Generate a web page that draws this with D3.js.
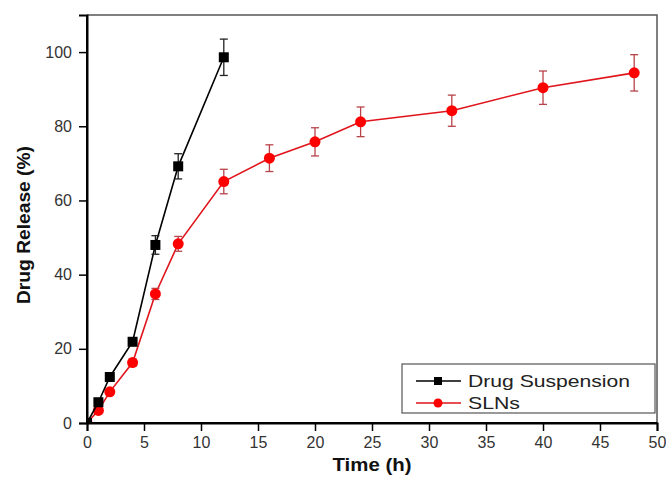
<!DOCTYPE html>
<html>
<head>
<meta charset="utf-8">
<script src="https://cdn.jsdelivr.net/npm/d3@7"></script>
<style>
  body { margin: 0; background: #fff; }
  svg { display: block; }
  text { font-family: Arial, "Liberation Sans", sans-serif; }
</style>
</head>
<body>
<svg id="chart" width="666" height="480"></svg>
<script>
// ---- data ----
const suspTime = [0, 1, 2, 4, 6, 8, 12];
const suspRelease = [0, 5.6, 12.4, 21.9, 48.0, 69.2, 98.6];
const suspError = [0, 0.5, 0.8, 1.0, 2.5, 3.4, 4.9];

const slnTime = [0, 1, 2, 4, 6, 8, 12, 16, 20, 24, 32, 40, 48];
const slnRelease = [0, 3.4, 8.4, 16.3, 34.8, 48.3, 65.1, 71.4, 75.8, 81.2, 84.2, 90.4, 94.4];
const slnError = [0, 0.5, 0.8, 1.0, 1.5, 2.0, 3.3, 3.6, 3.8, 4.0, 4.2, 4.5, 4.9];

const xTicks = [0, 5, 10, 15, 20, 25, 30, 35, 40, 45, 50];
const yTicks = [0, 20, 40, 60, 80, 100];
const seriesNames = ["Drug Suspension", "SLNs"];
const xTitle = "Time (h)";
const yTitle = "Drug Release (%)";

// ---- layout ----
const svg = d3.select("#chart");
const pLeft = 87, pRight = 657, pTop = 15, pBottom = 423;

const x = d3.scaleLinear().domain([0, 50]).range([pLeft, pRight]);
const y = d3.scaleLinear().domain([0, 110]).range([pBottom, pTop]);

// frame (top & right)
svg.append("path")
  .attr("d", `M${pLeft},${pTop}H${pRight}V${pBottom}`)
  .attr("fill", "none").attr("stroke", "#555").attr("stroke-width", 1.5);

// minor ticks
const xMinor = d3.range(2.5, 50, 5);
const yMinor = d3.range(10, 110, 20);

const xAxisG = svg.append("g").attr("transform", `translate(0,${pBottom})`);
xAxisG.call(d3.axisBottom(x).tickValues(xMinor).tickSize(5).tickFormat(""));
xAxisG.call(d3.axisBottom(x).tickValues(xTicks).tickSize(8).tickPadding(6).tickFormat(d3.format("d")));
const yAxisG = svg.append("g").attr("transform", `translate(${pLeft},0)`);
yAxisG.call(d3.axisLeft(y).tickValues(yMinor).tickSize(5).tickFormat(""));
yAxisG.call(d3.axisLeft(y).tickValues(yTicks).tickSize(8).tickPadding(7).tickFormat(d3.format("d")));

svg.selectAll(".domain").attr("stroke", "#000").attr("stroke-width", 2);
svg.selectAll(".tick line").attr("stroke", "#000").attr("stroke-width", 1.5);
svg.selectAll(".tick text").attr("font-size", 16).attr("fill", "#333")
  .attr("font-family", "Arial, 'Liberation Sans', sans-serif");

// axis titles
svg.append("text")
  .attr("x", (pLeft + pRight) / 2).attr("y", 471)
  .attr("text-anchor", "middle").attr("font-size", 18).attr("font-weight", "bold")
  .attr("fill", "#111")
  .attr("textLength", 79).attr("lengthAdjust", "spacingAndGlyphs")
  .text(xTitle);
svg.append("text")
  .attr("transform", "translate(30,225) rotate(-90)")
  .attr("text-anchor", "middle").attr("font-size", 18).attr("font-weight", "bold")
  .attr("fill", "#111")
  .attr("textLength", 158).attr("lengthAdjust", "spacingAndGlyphs")
  .text(yTitle);

// clip
svg.append("clipPath").attr("id", "clip")
  .append("rect").attr("x", pLeft).attr("y", pTop - 20).attr("width", pRight - pLeft + 10).attr("height", pBottom - pTop + 20);

const plot = svg.append("g").attr("clip-path", "url(#clip)");

function drawSeries(times, vals, errs, lineColor, errColor, markerColor, shape) {
  const pts = times.map((t, i) => ({ t, v: vals[i], e: errs[i] }));
  const line = d3.line().x(d => x(d.t)).y(d => y(d.v));
  plot.append("path").datum(pts)
    .attr("d", line).attr("fill", "none")
    .attr("stroke", lineColor).attr("stroke-width", 1.6);
  const eb = plot.append("g").attr("stroke", errColor).attr("stroke-width", 1.3);
  pts.filter(d => d.e > 0).forEach(d => {
    const cx = x(d.t), y1 = y(d.v + d.e), y2 = y(d.v - d.e);
    eb.append("line").attr("x1", cx).attr("x2", cx).attr("y1", y1).attr("y2", y2);
    eb.append("line").attr("x1", cx - 4).attr("x2", cx + 4).attr("y1", y1).attr("y2", y1);
    eb.append("line").attr("x1", cx - 4).attr("x2", cx + 4).attr("y1", y2).attr("y2", y2);
  });
  const mk = plot.append("g");
  if (shape === "square") {
    mk.selectAll("rect").data(pts).join("rect")
      .attr("x", d => x(d.t) - 5).attr("y", d => y(d.v) - 5)
      .attr("width", 10).attr("height", 10).attr("fill", markerColor);
  } else {
    mk.selectAll("circle").data(pts).join("circle")
      .attr("cx", d => x(d.t)).attr("cy", d => y(d.v))
      .attr("r", 5.5).attr("fill", markerColor);
  }
}

drawSeries(slnTime, slnRelease, slnError, "#e0141c", "#b8434a", "#ff0000", "circle");
drawSeries(suspTime, suspRelease, suspError, "#000", "#222", "#000", "square");

// redraw axes lines on top
svg.append("path").attr("d", `M${pLeft},${pTop}V${pBottom}H${pRight}`)
  .attr("fill", "none").attr("stroke", "#000").attr("stroke-width", 2);

// legend
const lg = svg.append("g");
lg.append("rect").attr("x", 402).attr("y", 364).attr("width", 253).attr("height", 49)
  .attr("fill", "#fff").attr("stroke", "#555").attr("stroke-width", 1.2);
const legendRows = [
  { name: seriesNames[0], color: "#000", marker: "#000", shape: "square", yy: 381, len: 162 },
  { name: seriesNames[1], color: "#e0141c", marker: "#ff0000", shape: "circle", yy: 403, len: 52 }
];
legendRows.forEach(r => {
  lg.append("line").attr("x1", 416).attr("x2", 461).attr("y1", r.yy).attr("y2", r.yy)
    .attr("stroke", r.color).attr("stroke-width", 1.6);
  if (r.shape === "square") {
    lg.append("rect").attr("x", 434).attr("y", r.yy - 4).attr("width", 8).attr("height", 8).attr("fill", r.marker);
  } else {
    lg.append("circle").attr("cx", 438).attr("cy", r.yy).attr("r", 4.5).attr("fill", r.marker);
  }
  lg.append("text").attr("x", 468).attr("y", r.yy + 6)
    .attr("font-size", 17).attr("fill", "#222")
    .attr("textLength", r.len).attr("lengthAdjust", "spacingAndGlyphs")
    .text(r.name);
});
</script>
</body>
</html>
